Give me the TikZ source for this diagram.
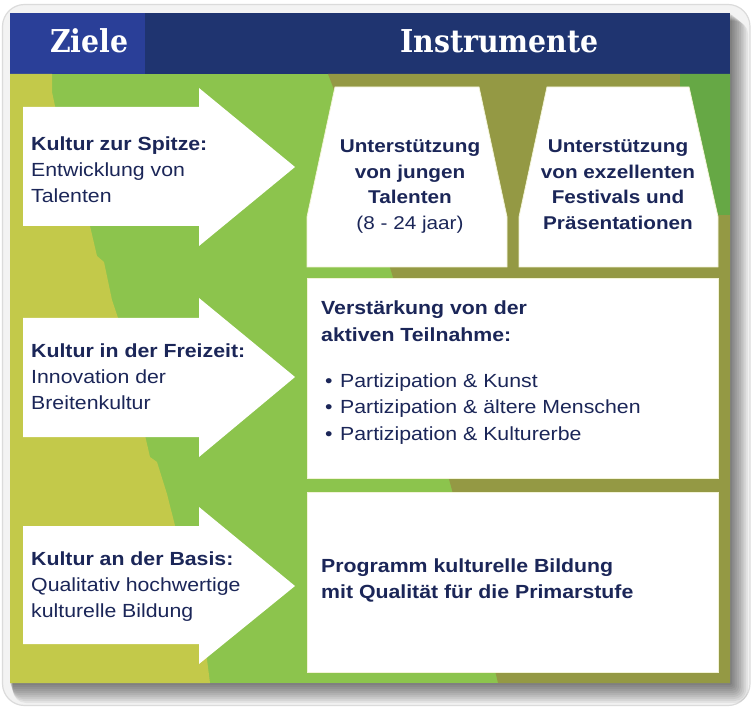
\documentclass[tikz,border=0pt]{standalone}
\usepackage{fontspec}
\setmainfont[FakeStretch=1.12]{Liberation Sans}
\newfontfamily\headfont{DejaVu Serif Condensed}

\definecolor{navy}{HTML}{1F3470}
\definecolor{headblue}{HTML}{2A3F98}
\definecolor{lime}{HTML}{C3C94A}
\definecolor{leaf}{HTML}{8CC44D}
\definecolor{olive}{HTML}{949944}
\definecolor{moss}{HTML}{66A845}
\definecolor{ink}{HTML}{1B2658}
\definecolor{frame}{HTML}{F3F3F3}

\tikzset{
  heading/.style={anchor=base west, inner sep=0pt, text=white,
    font=\headfont\bfseries\fontsize{31.5}{36}\selectfont},
  goaltext/.style={anchor=base west, inner sep=0pt, text=ink,
    font=\fontsize{19}{26}\selectfont},
  tooltext/.style={anchor=base, inner sep=0pt, text=ink,
    font=\fontsize{18.5}{25.5}\selectfont},
  boxtext/.style={anchor=base west, inner sep=0pt, text=ink,
    font=\fontsize{19}{26.5}\selectfont},
  whitebox/.style={fill=white, draw=lime!22, line width=0.8pt},
  arrowbox/.style={fill=white},
}

\begin{document}
\begin{tikzpicture}[x=1pt,y=-1pt]
\useasboundingbox (0,0) rectangle (752,708);

% rounded card behind the panel
\fill[frame, draw=black!14, line width=1.2pt, rounded corners=22pt]
  (2.5,4.5) rectangle (750,705.5);

% soft drop shadow on the right and bottom
\foreach \k in {1,...,10}{
  \fill[black, opacity=0.06, rounded corners=\k*1.3pt]
    (10+0.3*\k,13+0.8*\k) rectangle (730+1.8*\k,683+2.0*\k);
}

% header bar
\fill[navy] (10,13) rectangle (730,74);
\fill[headblue] (10,13) rectangle (145,74);

% painted background bands
\fill[leaf] (10,74) rectangle (730,683);
\fill[lime] (10,74) -- (52,74) -- (52,92) -- (55,106) -- (90,226) -- (97,256)
  -- (104,262) -- (112,300) -- (118,318) -- (150,457) -- (157,462) -- (167,494)
  -- (205,644) -- (210,683) -- (10,683) -- cycle;
\fill[olive] (328,74) -- (680,74) -- (689,87) -- (718,215) -- (730,215)
  -- (730,683) -- (498,683) -- (452,490) -- (392,274) -- (333,87) -- cycle;
\fill[moss] (680,74) -- (730,74) -- (730,215) -- (718,215) -- (689,87)
  -- (680,87) -- cycle;

% goal arrows
\fill[arrowbox] (23,107) -- (199,107) -- (199,88) -- (295,167)
  -- (199,246) -- (199,226) -- (23,226) -- cycle;
\fill[arrowbox] (23,318) -- (199,318) -- (199,298) -- (295,377)
  -- (199,457) -- (199,437) -- (23,437) -- cycle;
\fill[arrowbox] (23,526) -- (199,526) -- (199,507) -- (295,586)
  -- (199,664) -- (199,644) -- (23,644) -- cycle;

% instrument panels
\draw[whitebox] (335,87) -- (479,87) -- (507,217) -- (507,267)
  -- (307,267) -- (307,217) -- cycle;
\draw[whitebox] (547,87) -- (689,87) -- (718,217) -- (718,267)
  -- (519,267) -- (519,217) -- cycle;
\draw[whitebox] (307,278) rectangle (718,478);
\draw[whitebox] (307,492) rectangle (718,672);

% headings
\node[heading] (ziele) at (50,53) {Ziele};
\node[heading] (instr) at (400,53) {Instrumente};

% goals
\node[goaltext] (g1) at (31,151) {\begin{tabular}[t]{@{}l@{}}
  \textbf{Kultur zur Spitze:}\\ Entwicklung von\\ Talenten\end{tabular}};
\node[goaltext] (g2) at (31,357) {\begin{tabular}[t]{@{}l@{}}
  \textbf{Kultur in der Freizeit:}\\ Innovation der\\ Breitenkultur\end{tabular}};
\node[goaltext] (g3) at (31,565) {\begin{tabular}[t]{@{}l@{}}
  \textbf{Kultur an der Basis:}\\ Qualitativ hochwertige\\ kulturelle Bildung\end{tabular}};

% instruments
\node[tooltext] (t1) at (410,153) {\begin{tabular}[t]{@{}c@{}}
  \textbf{Unterstützung}\\ \textbf{von jungen}\\ \textbf{Talenten}\\ (8 - 24 jaar)\end{tabular}};
\node[tooltext] (t2) at (618,153) {\begin{tabular}[t]{@{}c@{}}
  \textbf{Unterstützung}\\ \textbf{von exzellenten}\\ \textbf{Festivals und}\\ \textbf{Präsentationen}\end{tabular}};
\node[boxtext] (t3) at (321,315) {\begin{tabular}[t]{@{}l@{}}
  \textbf{Verstärkung von der}\\ \textbf{aktiven Teilnahme:}\end{tabular}};
\node[boxtext] (t3list) at (325,387) {\begin{tabular}[t]{@{}l@{}}
  \makebox[15pt][l]{\textbullet}Partizipation \& Kunst\\
  \makebox[15pt][l]{\textbullet}Partizipation \& ältere Menschen\\
  \makebox[15pt][l]{\textbullet}Partizipation \& Kulturerbe\end{tabular}};
\node[boxtext] (t4) at (321,572) {\begin{tabular}[t]{@{}l@{}}
  \textbf{Programm kulturelle Bildung}\\ \textbf{mit Qualität für die Primarstufe}\end{tabular}};
\end{tikzpicture}
\end{document}
